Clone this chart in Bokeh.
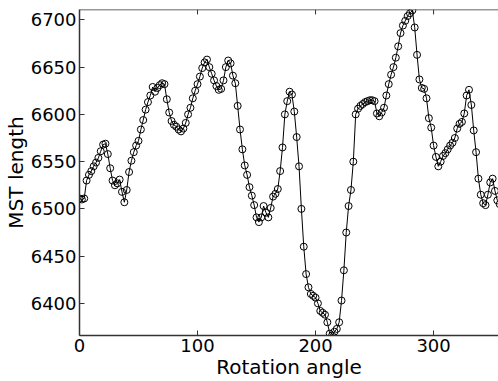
from bokeh.plotting import figure
from bokeh.models import FixedTicker, Range1d, Span
from bokeh.embed import file_html
from bokeh.resources import INLINE

# Rotation angle (degrees), 2-degree steps
angles = list(range(0, 358, 2))
# MST length
mst_length = [
    6511, 6510, 6511, 6530, 6536, 6540, 6545, 6549, 6554, 6561,   # 0-18
    6568, 6569, 6558, 6543, 6530, 6525, 6527, 6531, 6518, 6507,   # 20-38
    6520, 6539, 6551, 6560, 6567, 6572, 6584, 6594, 6605, 6613,   # 40-58
    6620, 6629, 6624, 6628, 6631, 6633, 6632, 6616, 6602, 6593,   # 60-78
    6589, 6587, 6584, 6582, 6585, 6591, 6600, 6607, 6617, 6625,   # 80-98
    6632, 6640, 6649, 6655, 6658, 6650, 6643, 6636, 6630, 6626,   # 100-118
    6627, 6636, 6650, 6657, 6654, 6641, 6633, 6609, 6584, 6563,   # 120-138
    6546, 6536, 6523, 6514, 6504, 6491, 6486, 6491, 6503, 6496,   # 140-158
    6491, 6501, 6513, 6516, 6521, 6540, 6565, 6600, 6614, 6624,   # 160-178
    6621, 6603, 6576, 6545, 6500, 6460, 6431, 6417, 6410, 6408,   # 180-198
    6406, 6400, 6392, 6390, 6388, 6380, 6368, 6366, 6370, 6373,   # 200-218
    6380, 6403, 6435, 6475, 6503, 6520, 6550, 6600, 6606, 6609,   # 220-238
    6611, 6613, 6614, 6615, 6615, 6614, 6601, 6598, 6602, 6607,   # 240-258
    6620, 6632, 6642, 6650, 6660, 6672, 6686, 6694, 6699, 6704,   # 260-278
    6707, 6710, 6692, 6663, 6637, 6628, 6627, 6617, 6596, 6586,   # 280-298
    6567, 6555, 6545, 6550, 6556, 6559, 6563, 6567, 6570, 6575,   # 300-318
    6585, 6590, 6592, 6601, 6620, 6626, 6610, 6583, 6560, 6532,   # 320-338
    6515, 6506, 6504, 6515, 6528, 6532, 6519, 6509, 6505,         # 340-356
]
x_ticks = [0, 100, 200, 300]
y_ticks = [6400, 6450, 6500, 6550, 6600, 6650, 6700]

FONT = "DejaVu Sans"
Y_TOP = 6711

p = figure(width=498, height=381, output_backend="svg", toolbar_location=None,
           x_range=Range1d(0, 355), y_range=Range1d(6366, Y_TOP),
           x_axis_label="Rotation angle", y_axis_label="MST length",
           min_border_left=79, min_border_right=0, min_border_top=9,
           min_border_bottom=43)
p.outline_line_color = None
p.grid.visible = False
p.background_fill_color = "white"
p.border_fill_color = "white"

# top box edge with inward ticks (MATLAB box style)
p.add_layout(Span(location=Y_TOP, dimension="width", line_color="#333333",
                  line_width=1.5))
tick_len = 5 * (Y_TOP - 6366) / 330.0
p.segment(x0=x_ticks, x1=x_ticks, y0=[Y_TOP] * len(x_ticks),
          y1=[Y_TOP - tick_len] * len(x_ticks), line_color="#333333",
          line_width=1)

p.line(angles, mst_length, line_color="black", line_width=1)
p.scatter(angles, mst_length, marker="circle", size=7, fill_color=None,
          line_color="black", line_width=1)

for ax in p.xaxis + p.yaxis:
    ax.axis_line_color = "#333333"
    ax.axis_line_width = 1.5
    ax.major_tick_in = 5
    ax.major_tick_out = 0
    ax.major_tick_line_color = "#333333"
    ax.minor_tick_line_color = None
    ax.major_label_text_font = FONT
    ax.major_label_text_font_size = "18px"
    ax.major_label_text_color = "black"
    ax.axis_label_text_font = FONT
    ax.axis_label_text_font_size = "20px"
    ax.axis_label_text_font_style = "normal"
    ax.axis_label_text_color = "black"
    ax.major_label_standoff = 3
    ax.axis_label_standoff = 0

p.xaxis.ticker = FixedTicker(ticks=x_ticks)
p.yaxis.ticker = FixedTicker(ticks=y_ticks)

open("out.html", "w").write(file_html(p, INLINE))
